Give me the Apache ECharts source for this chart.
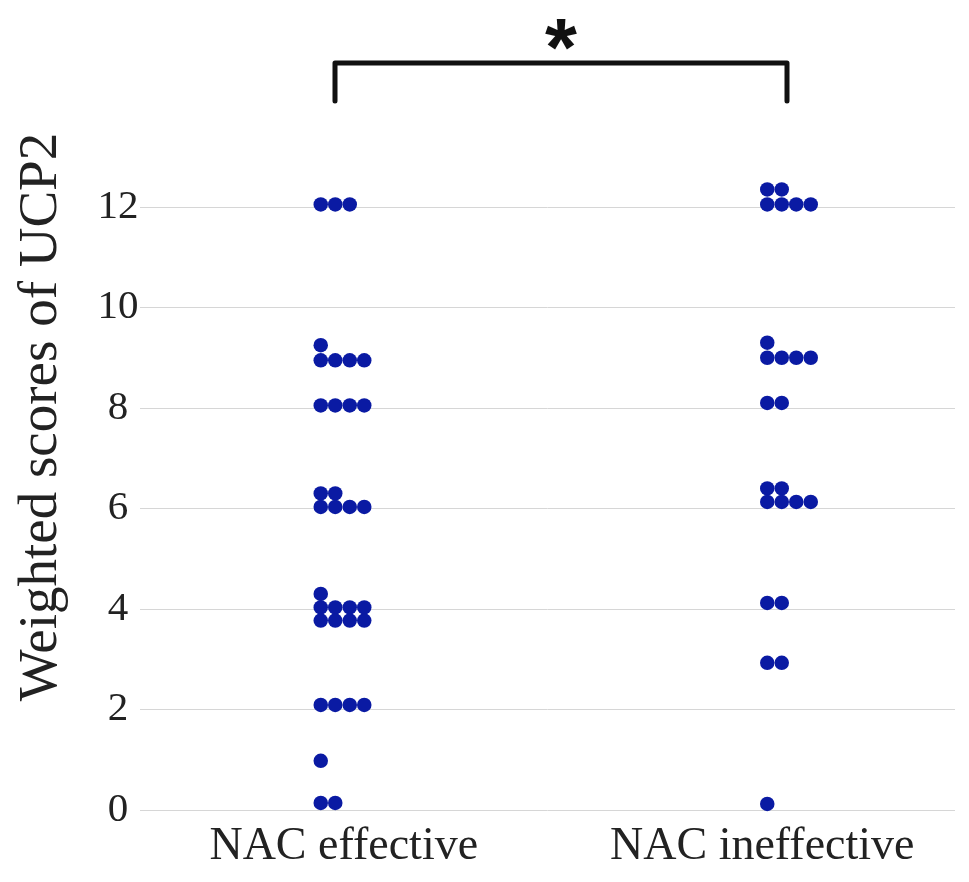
<!DOCTYPE html>
<html><head><meta charset="utf-8">
<script src="https://cdn.jsdelivr.net/npm/echarts@6/dist/echarts.min.js"></script>
<style>html,body{margin:0;padding:0;background:#fff}#c{width:969px;height:882px}</style>
</head><body><div id="c"></div>
<script>
// ---- data ----
const categories = ['NAC effective', 'NAC ineffective'];
const effectiveScores = [12.05,12.05,12.05, 9.25, 8.95,8.95,8.95,8.95, 8.05,8.05,8.05,8.05, 6.3,6.3, 6.03,6.03,6.03,6.03, 4.3, 4.03,4.03,4.03,4.03, 3.77,3.77,3.77,3.77, 2.09,2.09,2.09,2.09, 0.98, 0.14,0.14];
const ineffectiveScores = [12.35,12.35, 12.05,12.05,12.05,12.05, 9.3, 9.0,9.0,9.0,9.0, 8.1,8.1, 6.4,6.4, 6.13,6.13,6.13,6.13, 4.12,4.12, 2.93,2.93, 0.12];
const yTicks = [0, 2, 4, 6, 8, 10, 12];
const axisTitle = 'Weighted scores of UCP2';
const significance = '*';

// ---- layout (style) ----
const groupShift = [-23, 16];   // px, first dot of a row relative to category center
const dotSpacing = 14.5;         // px between side-by-side dots
const DOT = '#0a1aa3';

function buildData(idx, values) {
  const seen = {};
  return values.map(v => {
    const k = String(v);
    const r = seen[k] || 0; seen[k] = r + 1;
    return { value: [idx, v], symbolOffset: [groupShift[idx] + r * dotSpacing, 0] };
  });
}

const chart = echarts.init(document.getElementById('c'));
chart.setOption({
  animation: false,
  backgroundColor: '#fff',
  grid: { left: 140, right: 14, top: 207, bottom: 72 },
  xAxis: {
    type: 'category', data: categories, boundaryGap: true,
    axisLine: { show: false }, axisTick: { show: false }, splitLine: { show: false },
    axisLabel: {
      margin: 14,
      formatter: (v, i) => i === 0 ? '{a|' + v + '}' : '{b|' + v + '}',
      rich: {
        a: { fontFamily: 'Liberation Serif', fontSize: 46, color: '#222' },
        b: { fontFamily: 'Liberation Serif', fontSize: 46, color: '#222', padding: [0, 0, 0, 22] }
      }
    }
  },
  yAxis: {
    type: 'value', min: yTicks[0], max: yTicks[yTicks.length - 1], interval: yTicks[1] - yTicks[0],
    axisLine: { show: false }, axisTick: { show: false },
    splitLine: { show: true, lineStyle: { color: '#d6d6d6', width: 1 } },
    axisLabel: { fontFamily: 'Liberation Serif', fontSize: 41, color: '#222', align: 'center', margin: 22 }
  },
  series: categories.map((c, i) => ({
    type: 'scatter', name: c, clip: false,
    data: buildData(i, i === 0 ? effectiveScores : ineffectiveScores),
    symbol: 'circle', symbolSize: 14.5,
    itemStyle: { color: DOT, opacity: 1 }
  })),
  graphic: [
    { type: 'text', x: 42, y: 417, rotation: Math.PI / 2,
      style: { text: axisTitle, font: '55px "Liberation Serif"', fill: '#222', align: 'center', verticalAlign: 'middle' } },
    { type: 'polyline', shape: { points: [[335, 101], [335, 63], [787, 63], [787, 101]] },
      style: { stroke: '#111', lineWidth: 5, fill: null, lineJoin: 'round', lineCap: 'round' } },
    { type: 'text', x: 561, y: 52,
      style: { text: significance, font: 'bold 82px "Liberation Sans"', fill: '#111', align: 'center', verticalAlign: 'middle' } }
  ]
});
</script></body></html>
